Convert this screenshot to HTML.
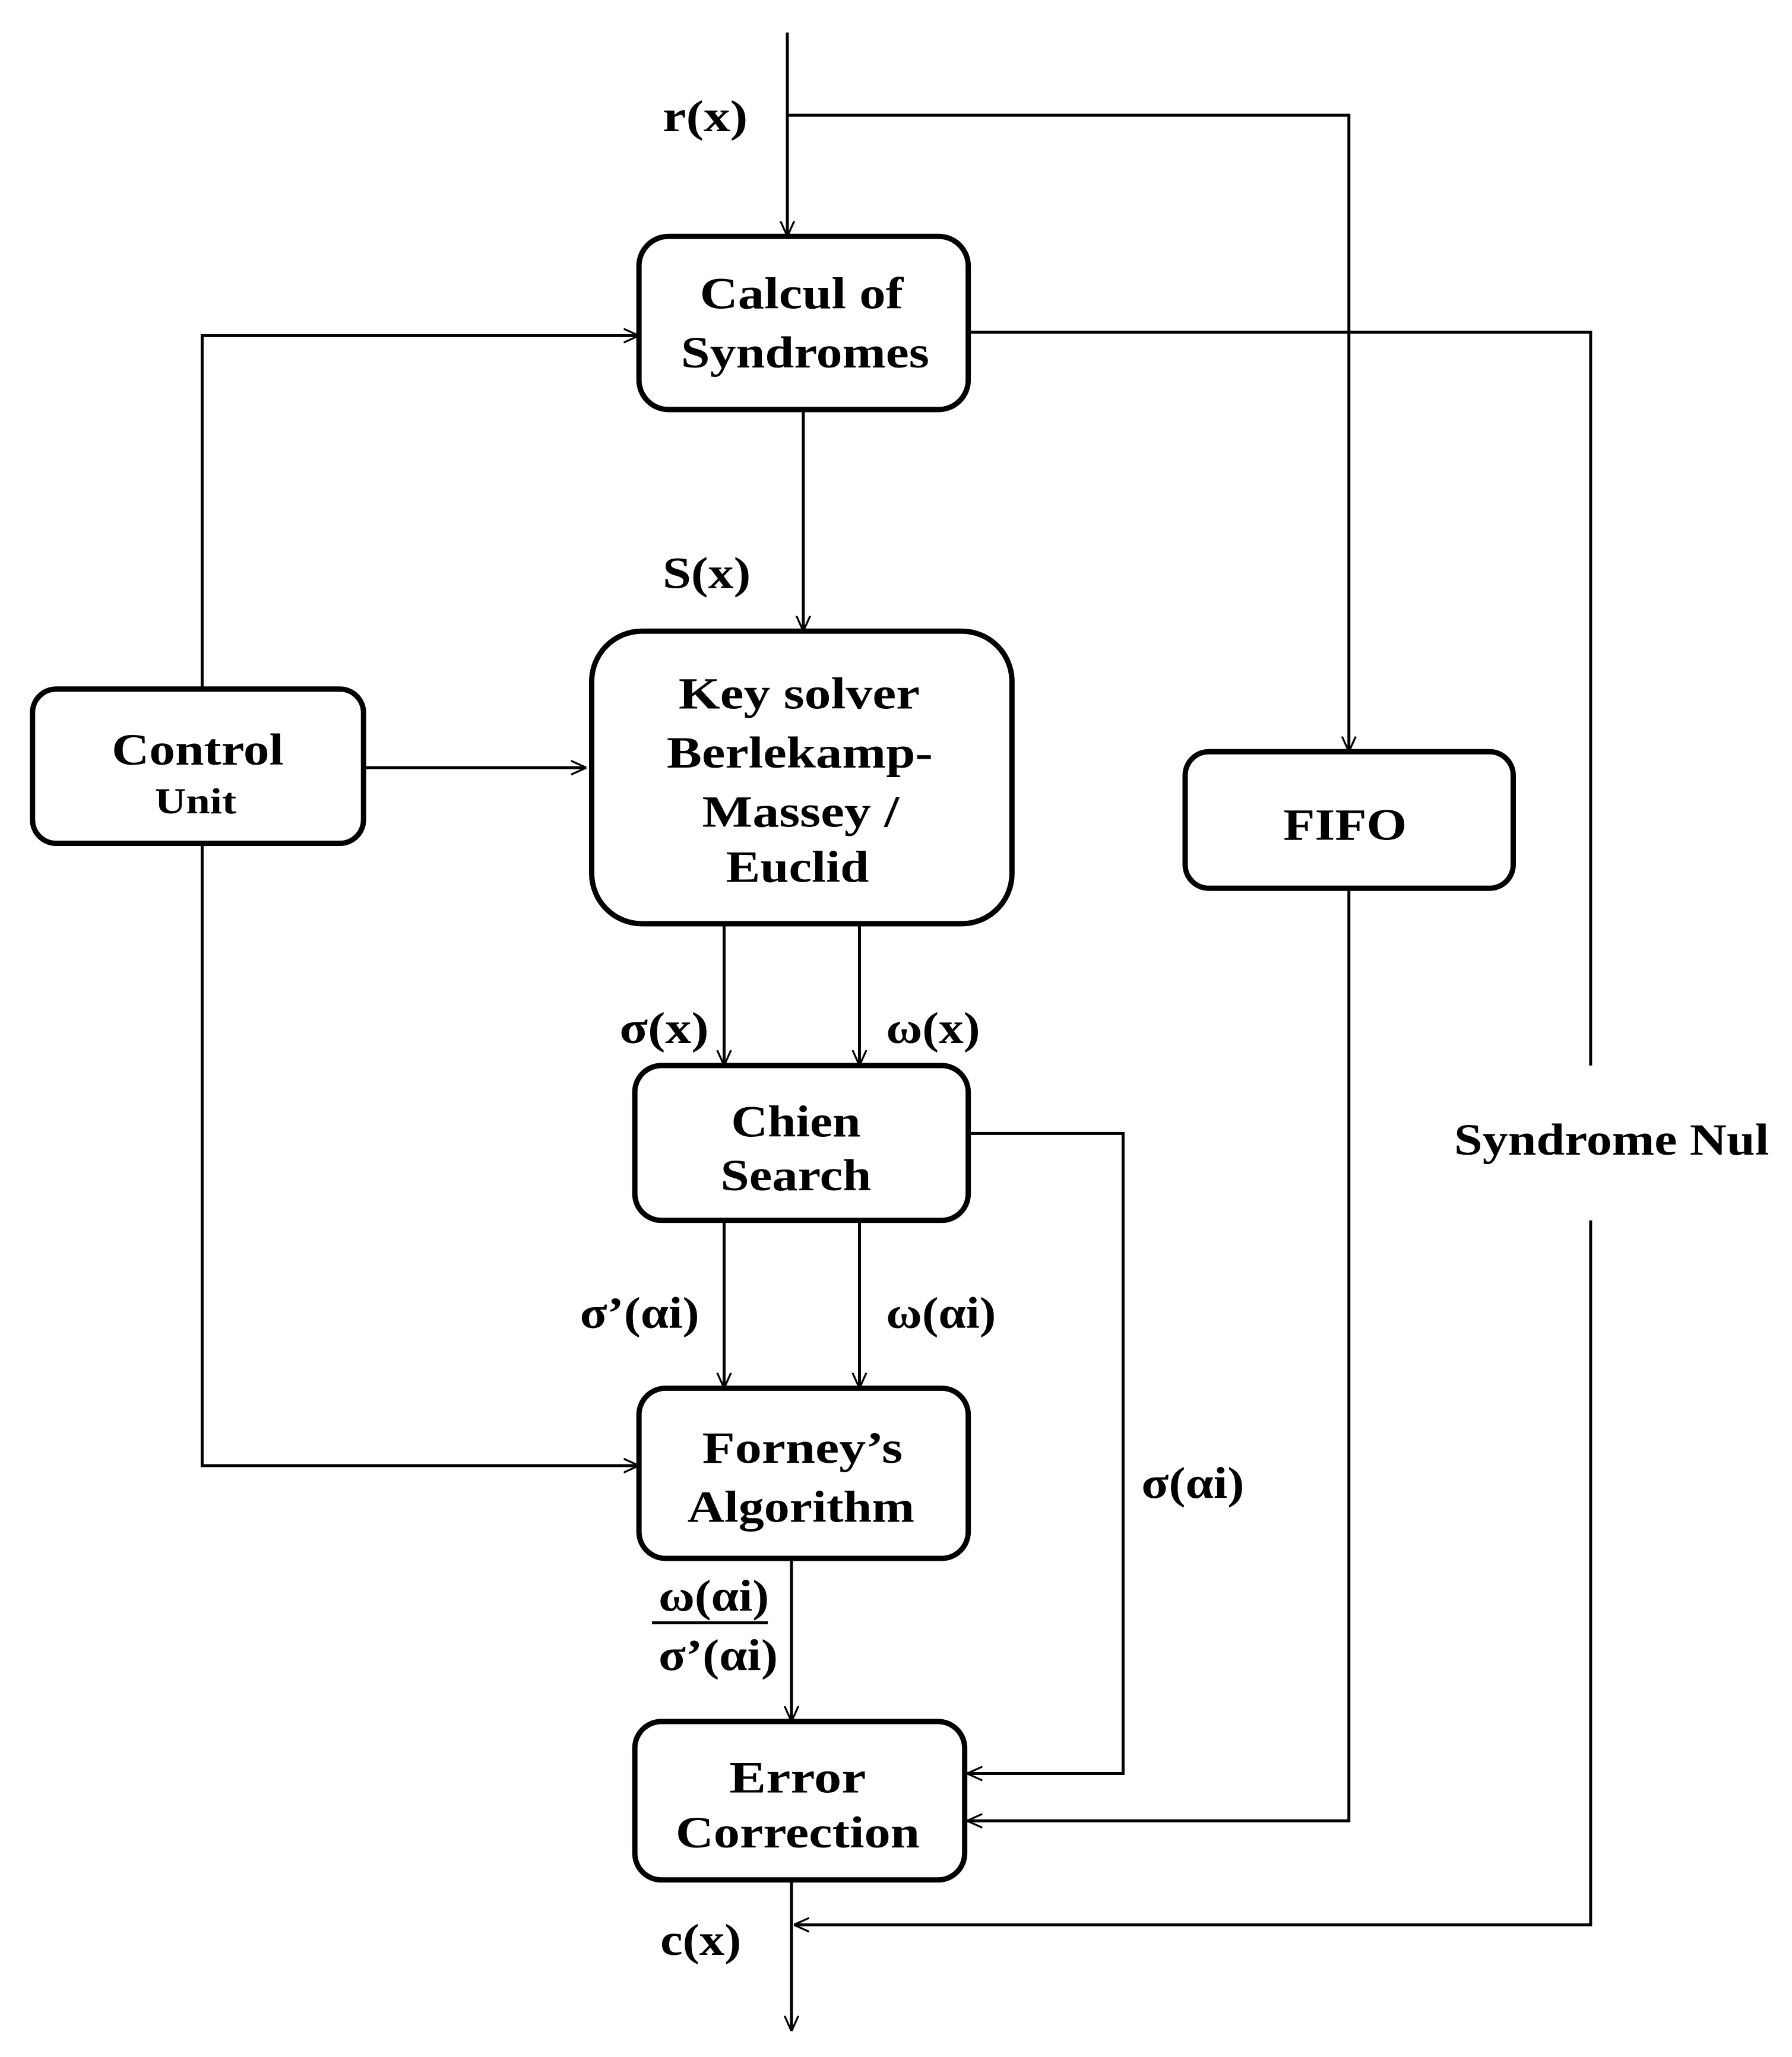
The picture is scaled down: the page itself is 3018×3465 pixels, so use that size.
<!DOCTYPE html>
<html><head><meta charset="utf-8"><style>html,body{margin:0;padding:0;background:#fff}svg{display:block}</style></head>
<body>
<svg width="3018" height="3465" viewBox="0 0 3018 3465" xmlns="http://www.w3.org/2000/svg">
<defs>
<marker id="a" viewBox="0 0 20 20" refX="20" refY="10" markerWidth="26" markerHeight="26" markerUnits="userSpaceOnUse" orient="auto">
<path d="M0,1 L20,10 L0,19" fill="none" stroke="#000" stroke-width="2.5"/>
</marker>
</defs>
<g transform="scale(0.9955)">
<g fill="none" stroke="#000" stroke-width="5">
<line x1="1332" y1="55" x2="1332" y2="400" marker-end="url(#a)"/>
<polyline points="1332,195 2282,195 2282,1272" marker-end="url(#a)"/>
<polyline points="1638,562 2691,562 2691,1803"/>
<polyline points="2691,2065 2691,3257 1343,3257" marker-end="url(#a)"/>
<polyline points="342,1166 342,568 1081,568" marker-end="url(#a)"/>
<polyline points="342,1427 342,2480 1081,2480" marker-end="url(#a)"/>
<line x1="615" y1="1299" x2="992" y2="1299" marker-end="url(#a)"/>
<line x1="1359" y1="693" x2="1359" y2="1068" marker-end="url(#a)"/>
<line x1="1225" y1="1563" x2="1225" y2="1803" marker-end="url(#a)"/>
<line x1="1454" y1="1563" x2="1454" y2="1803" marker-end="url(#a)"/>
<line x1="1225" y1="2065" x2="1225" y2="2349" marker-end="url(#a)"/>
<line x1="1454" y1="2065" x2="1454" y2="2349" marker-end="url(#a)"/>
<polyline points="1632,1918 1900,1918 1900,3001 1636,3001" marker-end="url(#a)"/>
<polyline points="2282,1503 2282,3081 1636,3081" marker-end="url(#a)"/>
<line x1="1339" y1="2637" x2="1339" y2="2913" marker-end="url(#a)"/>
<line x1="1339" y1="3181" x2="1339" y2="3437" marker-end="url(#a)"/>
<line x1="1103" y1="2746" x2="1299" y2="2746"/>
</g>
<g fill="#fff" stroke="#000" stroke-width="9">
<rect x="1081" y="400" width="557" height="293" rx="50"/>
<rect x="55" y="1166" width="560" height="261" rx="40"/>
<rect x="1001" y="1068" width="711" height="495" rx="85"/>
<rect x="2005" y="1272" width="555" height="231" rx="40"/>
<rect x="1074" y="1803" width="564" height="262" rx="45"/>
<rect x="1081" y="2349" width="557" height="288" rx="45"/>
<rect x="1074" y="2913" width="558" height="268" rx="45"/>
</g>
<g font-family="Liberation Serif, serif" font-weight="bold" font-size="76" fill="#000">
<text x="1184" y="522" textLength="344" lengthAdjust="spacingAndGlyphs">Calcul of</text>
<text x="1152" y="622" textLength="420" lengthAdjust="spacingAndGlyphs">Syndromes</text>
<text x="189" y="1294" textLength="291" lengthAdjust="spacingAndGlyphs">Control</text>
<text x="262" y="1376" textLength="138" font-size="62" lengthAdjust="spacingAndGlyphs">Unit</text>
<text x="1148" y="1199" textLength="408" lengthAdjust="spacingAndGlyphs">Key solver</text>
<text x="1128" y="1299" textLength="450" lengthAdjust="spacingAndGlyphs">Berlekamp-</text>
<text x="1188" y="1399" textLength="333" lengthAdjust="spacingAndGlyphs">Massey /</text>
<text x="1228" y="1492" textLength="242" lengthAdjust="spacingAndGlyphs">Euclid</text>
<text x="2171" y="1421" textLength="209" lengthAdjust="spacingAndGlyphs">FIFO</text>
<text x="1237" y="1923" textLength="219" lengthAdjust="spacingAndGlyphs">Chien</text>
<text x="1219" y="2014" textLength="255" lengthAdjust="spacingAndGlyphs">Search</text>
<text x="1188" y="2475" textLength="339" lengthAdjust="spacingAndGlyphs">Forney’s</text>
<text x="1163" y="2575" textLength="384" lengthAdjust="spacingAndGlyphs">Algorithm</text>
<text x="1234" y="3033" textLength="231" lengthAdjust="spacingAndGlyphs">Error</text>
<text x="1143" y="3126" textLength="413" lengthAdjust="spacingAndGlyphs">Correction</text>
<text x="1121" y="222" textLength="144" lengthAdjust="spacingAndGlyphs">r(x)</text>
<text x="1121" y="995" textLength="149" lengthAdjust="spacingAndGlyphs">S(x)</text>
<text x="1048" y="1765" textLength="151" lengthAdjust="spacingAndGlyphs">σ(x)</text>
<text x="1499" y="1765" textLength="159" lengthAdjust="spacingAndGlyphs">ω(x)</text>
<text x="981" y="2247" textLength="202" lengthAdjust="spacingAndGlyphs">σ’(αi)</text>
<text x="1499" y="2247" textLength="186" lengthAdjust="spacingAndGlyphs">ω(αi)</text>
<text x="1931" y="2535" textLength="174" lengthAdjust="spacingAndGlyphs">σ(αi)</text>
<text x="1114" y="2726" textLength="187" lengthAdjust="spacingAndGlyphs">ω(αi)</text>
<text x="1114" y="2826" textLength="202" lengthAdjust="spacingAndGlyphs">σ’(αi)</text>
<text x="1117" y="3308" textLength="137" lengthAdjust="spacingAndGlyphs">c(x)</text>
<text x="2460" y="1954" textLength="533" lengthAdjust="spacingAndGlyphs">Syndrome Nul</text>
</g>
</g>
</svg>
</body></html>
